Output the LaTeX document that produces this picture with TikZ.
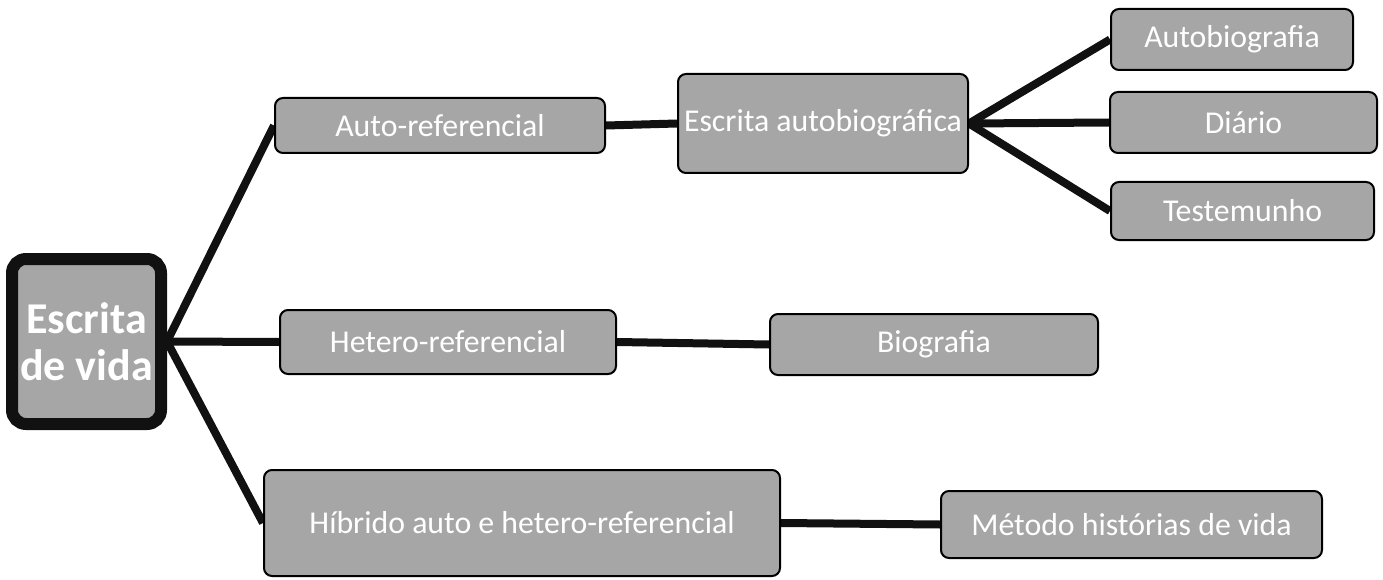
\documentclass[tikz,border=0pt]{standalone}
\usepackage{fontspec}
\setmainfont{Carlito}
\usetikzlibrary{backgrounds}
\definecolor{boxgray}{HTML}{A6A6A6}
\definecolor{linkc}{HTML}{111111}
\tikzset{
  leaf/.style={draw=black, line width=2pt, fill=boxgray, rounded corners=8pt,
    text=white, inner sep=0pt, font=\fontsize{31.8}{36}\selectfont, align=center},
  rootbox/.style={draw=linkc, line width=12pt, fill=boxgray, rounded corners=14pt,
    text=white, inner sep=0pt, font=\fontsize{44}{47}\selectfont\bfseries, align=center},
  link/.style={draw=linkc, line width=8pt}
}
\begin{document}
\begin{tikzpicture}[x=1pt,y=-1pt]
\useasboundingbox (0,0) rectangle (1383,580);
\node[rootbox, minimum width=149pt, minimum height=165pt] (root) at (86.5,341.5) {Escrita\\de vida};
\node[leaf, minimum width=330pt, minimum height=55pt] (auto) at (440,125.5) {Auto-referencial};
\node[leaf, minimum width=290pt, minimum height=99pt] (escauto) at (823,123.5) {Escrita autobiográfica};
\node[leaf, minimum width=242pt, minimum height=61pt] (autobio) at (1232,39.5) {Autobiografia};
\node[leaf, minimum width=267pt, minimum height=61pt] (diario) at (1243.5,122.5) {Diário};
\node[leaf, minimum width=263pt, minimum height=58pt] (testem) at (1242.5,211) {Testemunho};
\node[leaf, minimum width=336pt, minimum height=64pt] (hetero) at (448,342) {Hetero-referencial};
\node[leaf, minimum width=328pt, minimum height=61pt] (bio) at (934,344.5) {Biografia};
\node[leaf, minimum width=516pt, minimum height=106pt] (hib) at (522,523) {Híbrido auto e hetero-referencial};
\node[leaf, minimum width=381pt, minimum height=67pt] (metodo) at (1131.5,524.5) {Método histórias de vida};
\begin{scope}[on background layer]
\draw[link] (root.east) -- (auto.west);
\draw[link] (root.east) -- (hetero.west);
\draw[link] (root.east) -- (hib.west);
\draw[link] (auto.east) -- (escauto.west);
\draw[link] (escauto.east) -- (autobio.west);
\draw[link] (escauto.east) -- (diario.west);
\draw[link] (escauto.east) -- (testem.west);
\draw[link] (hetero.east) -- (bio.west);
\draw[link] (hib.east) -- (metodo.west);
\end{scope}
\end{tikzpicture}
\end{document}
